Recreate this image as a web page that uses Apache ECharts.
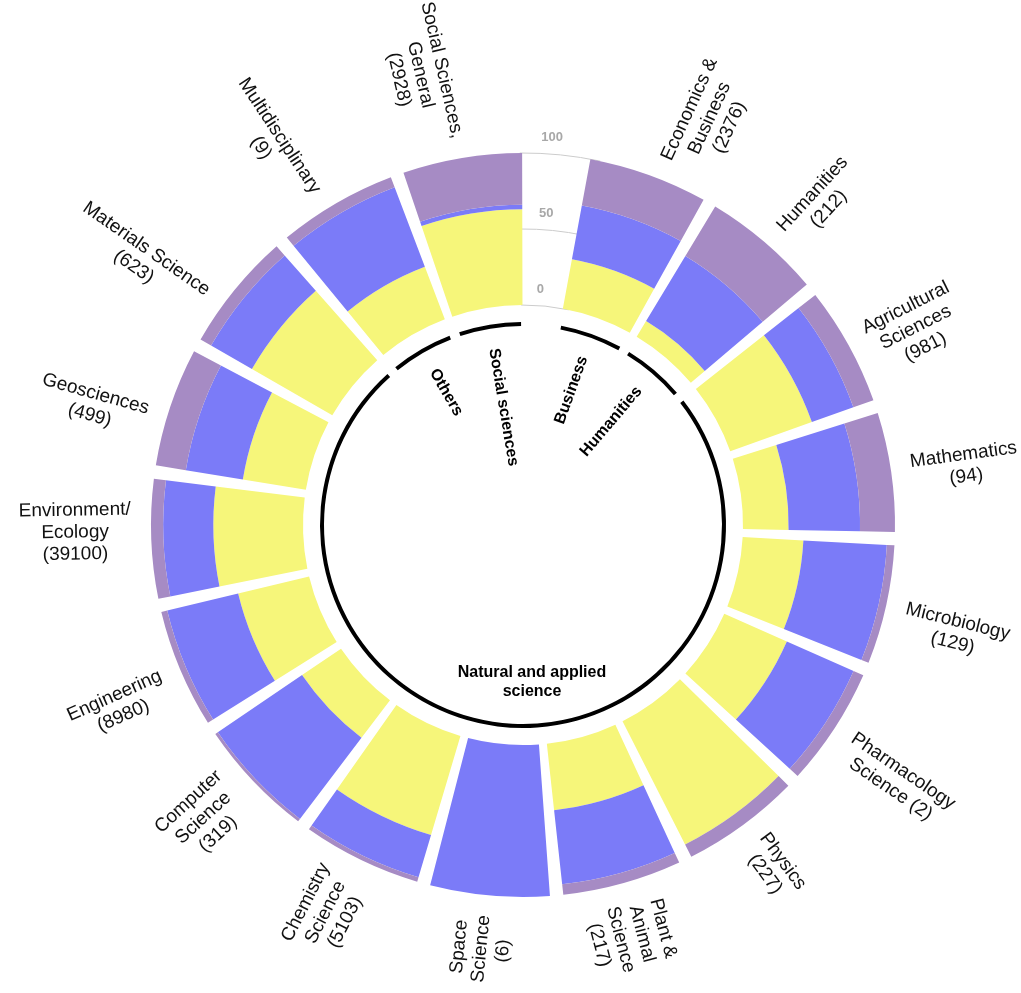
<!DOCTYPE html>
<html>
<head>
<meta charset="utf-8">
<title>Subject areas - circular stacked bars</title>
<script src="https://cdn.jsdelivr.net/npm/echarts@6.0.0/dist/echarts.min.js"></script>
<style>
  html, body { margin: 0; padding: 0; background: #fff; }
  #chart { width: 1021px; height: 993px; }
</style>
</head>
<body>
<div id="chart"></div>
<script>
// subject areas, clockwise from the top
var categories = ['Economics &\nBusiness', 'Humanities', 'Agricultural\nSciences', 'Mathematics',
  'Microbiology', 'Pharmacology\nScience', 'Physics', 'Plant &\nAnimal\nScience', 'Space\nScience',
  'Chemistry\nScience', 'Computer\nScience', 'Engineering', 'Environment/\nEcology', 'Geosciences',
  'Materials Science', 'Multidisciplinary', 'Social Sciences,\nGeneral'];
var counts = [2376, 212, 981, 94, 129, 2, 227, 217, 6, 5103, 319, 8980, 39100, 499, 623, 9, 2928];

// shares per bar (percent), inner to outer
var yellowShare = [33, 12, 57, 30, 40, 45, 91, 44, 0, 68, 31, 48, 59, 42, 61, 37, 63];
var blueShare   = [36, 50, 29, 47, 55, 48, 0, 49, 100, 29, 67, 48, 33, 38, 31, 56, 3];
var purpleShare = [31, 38, 14, 23, 5, 7, 9, 7, 0, 3, 2, 4, 8, 20, 8, 7, 34];

// groups, in the same order as the bars
var groupNames = ['Business', 'Humanities', 'Natural and applied\nscience', 'Others', 'Social sciences'];
var groupSizes = [1, 1, 13, 1, 1];

var radialTicks = [0, 50, 100];

// layout
var CX = 523, CY = 525, R0 = 220, R1 = 372;
var START = 80.6, SPAN = 351.5;
var LABEL_R = 392, GROUP_R = 179;
var FONT = 'Liberation Sans';
// small angular shifts (degrees) of the outer labels, as placed in the original
var labelNudge = [4.9, 2.2, 2.2, 0.6, 1.5, 1.2, 0, 0.8, 0.5, 1.2, 1, -1.3, 1.2, -2.9, -4.3, -3.3, -3.4];

var chart = echarts.init(document.getElementById('chart'));

function hidden(extra) {
  return Object.assign({
    axisLine: { show: false }, axisTick: { show: false },
    axisLabel: { show: false }, splitLine: { show: false }
  }, extra);
}

function shareSeries(data, color) {
  return {
    type: 'bar', coordinateSystem: 'polar', polarIndex: 0, stack: 'share',
    data: data, barCategoryGap: '10%', itemStyle: { color: color }, silent: true
  };
}

function arcPiece(len, color) {
  return {
    type: 'bar', coordinateSystem: 'polar', polarIndex: 1, stack: 'groups',
    barWidth: 4, data: [len], itemStyle: { color: color }, silent: true
  };
}

var series = [
  shareSeries(yellowShare, '#f6f67a'),
  shareSeries(blueShare, '#7b7bf8'),
  shareSeries(purpleShare, '#a68bc4')
];

var inset = 0.07;
groupSizes.forEach(function (size) {
  series.push(arcPiece(inset, 'transparent'));
  series.push(arcPiece(size - 2 * inset, '#000'));
  series.push(arcPiece(inset, 'transparent'));
});

var tickMin = radialTicks[0], tickMax = radialTicks[radialTicks.length - 1];
var tickStep = radialTicks[1] - radialTicks[0];

chart.setOption({
  animation: false,
  polar: [
    { center: [CX, CY], radius: [R0, R1] },
    { center: [CX, CY], radius: [190, 212] },
    { center: [CX, CY], radius: [R0, R1] },
    { center: [CX, CY], radius: [R0, R1] }
  ],
  angleAxis: [
    hidden({ polarIndex: 0, type: 'category', data: categories, startAngle: START, endAngle: START - SPAN }),
    hidden({ polarIndex: 1, type: 'value', min: 0, max: categories.length, startAngle: START, endAngle: START - SPAN }),
    hidden({ polarIndex: 2, type: 'value', min: 0, max: 1, startAngle: 90.5, endAngle: 78 }),
    hidden({ polarIndex: 3, type: 'value', min: 0, max: 1, startAngle: 85.5, endAngle: 85 })
  ],
  radiusAxis: [
    hidden({ polarIndex: 0, type: 'value', min: tickMin, max: tickMax }),
    hidden({ polarIndex: 1, type: 'category', data: ['groups'] }),
    hidden({ polarIndex: 2, type: 'value', min: tickMin, max: tickMax, interval: tickStep,
      splitLine: { show: true, lineStyle: { color: '#cccccc', width: 1 } } }),
    hidden({ polarIndex: 3, type: 'value', min: tickMin, max: tickMax, interval: tickStep,
      axisLabel: { show: true, margin: 0, align: 'center', verticalAlign: 'bottom',
        padding: [0, 0, 10, 0], color: '#a8a8a8', fontWeight: 'bold', fontSize: 13, fontFamily: FONT } })
  ],
  series: series
});

// labels around the ring and group names inside it
var measureCtx = document.createElement('canvas').getContext('2d');
function blockWidth(text, font) {
  measureCtx.font = font;
  return Math.max.apply(null, text.split('\n').map(function (s) {
    return measureCtx.measureText(s).width;
  }));
}
function clockAngle(p) {
  var a = Math.atan2(p[0] - CX, -(p[1] - CY)) * 180 / Math.PI;
  return a < 0 ? a + 360 : a;
}
function radialRotation(theta) {
  return (theta < 180 ? 90 - theta : 270 - theta) * Math.PI / 180;
}

var graphics = [];
var labelSize = 19;
var labelFont = labelSize + 'px "' + FONT + '"';
categories.forEach(function (name, i) {
  var text = name + (name.indexOf('Pharmacology') === 0 ? ' (' : '\n(') + counts[i] + ')';
  var p = chart.convertToPixel({ seriesIndex: 0 }, [tickMax, i]);
  var theta = clockAngle(p) + labelNudge[i];
  var r = LABEL_R + blockWidth(text, labelFont) / 2;
  var t = theta * Math.PI / 180;
  graphics.push({
    type: 'text', silent: true,
    x: CX + r * Math.sin(t), y: CY - r * Math.cos(t),
    rotation: radialRotation(theta),
    style: { text: text, fontSize: labelSize, fontFamily: FONT, fill: '#111',
      align: 'center', verticalAlign: 'middle', lineHeight: 22 }
  });
});

var acc = 0;
groupSizes.forEach(function (size, g) {
  var mid = acc + size / 2;
  acc += size;
  if (size > 1) {
    graphics.push({
      type: 'text', silent: true, x: CX + 9, y: CY + 157,
      style: { text: groupNames[g], fontSize: 16, fontWeight: 'bold', fontFamily: FONT, fill: '#000',
        align: 'center', verticalAlign: 'middle', lineHeight: 19 }
    });
    return;
  }
  var p = chart.convertToPixel({ seriesIndex: 3 }, [0, mid]);
  var theta = clockAngle(p);
  var t = theta * Math.PI / 180;
  graphics.push({
    type: 'text', silent: true,
    x: CX + GROUP_R * Math.sin(t), y: CY - GROUP_R * Math.cos(t),
    rotation: radialRotation(theta),
    style: { text: groupNames[g], fontSize: 16, fontWeight: 'bold', fontFamily: FONT, fill: '#000',
      align: theta < 180 ? 'right' : 'left', verticalAlign: 'middle' }
  });
});

chart.setOption({ graphic: graphics });
</script>
</body>
</html>
